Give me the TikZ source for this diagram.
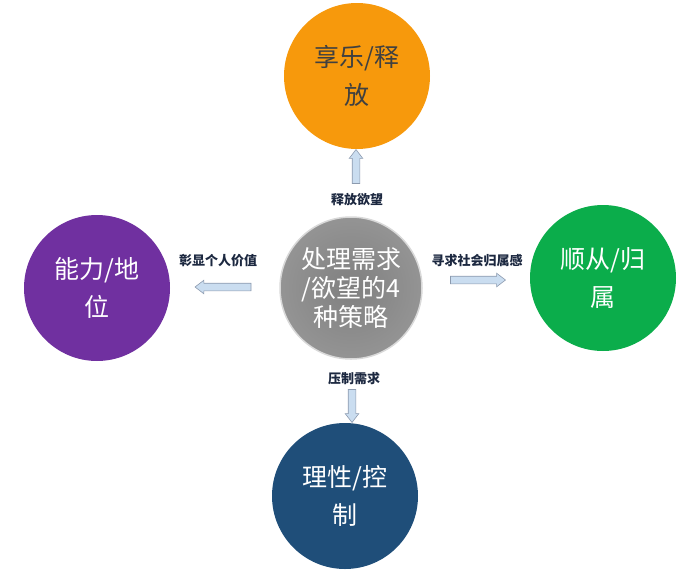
\documentclass[tikz,border=0pt]{standalone}
\usepackage{fontspec}
\newfontfamily\cjk{Noto Sans CJK SC}
\usepackage{tikz}
\usetikzlibrary{shapes.arrows}

\definecolor{orangeC}{HTML}{F7990C}
\definecolor{purpleC}{HTML}{7030A0}
\definecolor{greenC}{HTML}{0BAD4B}
\definecolor{navyC}{HTML}{1F4E79}
\definecolor{arrFill}{HTML}{CADDF0}
\definecolor{arrLine}{HTML}{8C9AAE}
\definecolor{lblC}{HTML}{1C2840}

\begin{document}
\begin{tikzpicture}[
  x=1pt, y=-1pt,
  font=\cjk,
  circ/.style={circle, minimum size=146pt, inner sep=0pt, align=center,
               text=white, font=\cjk\fontsize{25}{38}\selectfont},
  hub/.style={circ, minimum size=142pt, inner color=black!50, outer color=black!42,
              draw=black!15, line width=1.5pt, font=\cjk\fontsize{25}{29}\selectfont},
  lbl/.style={font=\cjk\bfseries\fontsize{13}{15}\selectfont, text=lblC},
  blk/.style={single arrow, draw=arrLine, fill=arrFill, line width=0.6pt,
              inner sep=3.5pt, single arrow head extend=3pt,
              single arrow tip angle=75},
]
\useasboundingbox (0,0) rectangle (694,571);
% outer circles
\node[circ, fill=orangeC, text=black!75] (joy) at (357,76) {享乐/释\\放};
\node[circ, fill=purpleC] (power) at (97,288) {能力/地\\位};
\node[circ, fill=greenC] (belong) at (603,278) {顺从/归\\属};
\node[circ, fill=navyC] (reason) at (345,496) {理性/控\\制};
% centre
\node[hub] (ctr) at (351,288) {处理需求\\/欲望的4\\种策略};
% labels
\node[lbl] (lup) at (357,200) {释放欲望};
\node[lbl] (lleft) at (218,261) {彰显个人价值};
\node[lbl] (lright) at (477,261) {寻求社会归属感};
\node[lbl] (ldown) at (354,379) {压制需求};
% block arrows
\node[blk, minimum height=34pt, shape border rotate=90] (aup) at (356,169) {};
\node[blk, minimum height=56pt, shape border rotate=180] (aleft) at (225.5,287) {};
\node[blk, minimum height=55pt] (aright) at (475.5,280) {};
\node[blk, minimum height=33pt, shape border rotate=270] (adown) at (352,403.5) {};
\end{tikzpicture}
\end{document}
